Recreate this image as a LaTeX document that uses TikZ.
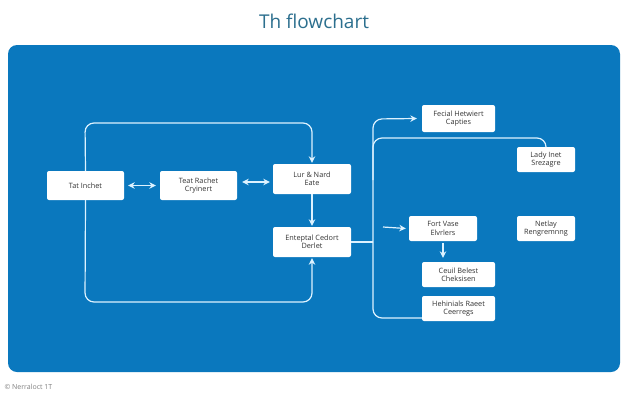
\documentclass[tikz,border=0pt]{standalone}
\usepackage{fontspec}
\setmainfont{Open Sans}
\usetikzlibrary{arrows.meta}
\definecolor{panel}{HTML}{0A78BE}
\definecolor{titlec}{HTML}{2C6F8E}
\definecolor{linec}{HTML}{DDF2FF}
\definecolor{textc}{HTML}{333333}
\tikzset{
  box/.style={draw=none, fill=white, rounded corners=2pt, inner sep=0pt,
    font=\fontsize{7.3}{8.3}\selectfont, text=textc, align=center},
  conn/.style={draw=linec, line width=1.2pt, rounded corners=9pt},
  tip/.style={-{Stealth[length=6.5pt,width=6.5pt]}},
  dtip/.style={{Stealth[length=6.5pt,width=6.5pt]}-{Stealth[length=6.5pt,width=6.5pt]}}
}
\begin{document}
\begin{tikzpicture}[x=1pt,y=-1pt]
\useasboundingbox (0,0) rectangle (625,400);
\fill[white] (0,0) rectangle (625,400);
\fill[panel, rounded corners=9pt] (8,45) rectangle (620,372);
\node[text=titlec, font=\fontsize{19}{22}\selectfont] (title) at (314,21) {Th flowchart};
\node[text=gray, anchor=west, font=\fontsize{7}{8}\selectfont] (foot) at (1,387) {© Nerraloct 1T};

\node[box, minimum width=77pt, minimum height=29pt] (A) at (85.5,185.5) {Tat Inchet};
\node[box, minimum width=77pt, minimum height=29pt] (B) at (198.5,185.5) {Teat Rachet\\Cryinert};
\node[box, minimum width=78pt, minimum height=30pt] (C) at (312,179) {Lur \& Nard\\Eate};
\node[box, minimum width=78pt, minimum height=30pt] (D) at (312,242) {Enteptal Cedort\\Derlet};
\node[box, minimum width=73pt, minimum height=27pt] (E) at (458.5,118.5) {Fecial Hetwiert\\Capties};
\node[box, minimum width=58pt, minimum height=25pt] (F) at (546,159.5) {Lady Inet\\Srezagre};
\node[box, minimum width=68pt, minimum height=25pt] (G) at (443,228.5) {Fort Vase\\Elvrlers};
\node[box, minimum width=58pt, minimum height=25pt] (H) at (546,228.5) {Netlay\\Rengremnng};
\node[box, minimum width=73pt, minimum height=25pt] (I) at (458.5,274.5) {Ceuil Belest\\Cheksisen};
\node[box, minimum width=73pt, minimum height=25pt] (J) at (458.5,308.5) {Hehinials Raeet\\Ceerregs};

\coordinate (jn) at (373,242);
\coordinate (gs) at (383,227);

% left side
\draw[conn, dtip] ([xshift=4pt]A.east) -- ([xshift=-4pt]B.west);
\draw[conn, dtip] ([xshift=5pt,yshift=3.5pt]B.east) -- ([xshift=-3pt,yshift=-3pt]C.west);
\draw[conn, tip] (A.north) -- (85,123) -- (312,123) -- ([yshift=1pt]C.north);
\draw[conn, tip] (A.south) -- (85,302) -- (312,302) -- ([yshift=-1pt]D.south);
\draw[conn, tip] (C.south) -- ([yshift=1pt]D.north);

% right side
\draw[conn] (D.east) -- (jn);
\draw[conn, tip] (jn) -- (373,119) -- ([xshift=-5pt]E.west);
\draw[conn] (373,180) -- (373,138) -- (546,138) -- (F.north);
\draw[conn] (jn) -- (373,318) -- (J.west |- 0,318);
\draw[conn, tip] (gs) -- ([xshift=-3pt]G.west);
\draw[conn, tip] ([yshift=-2pt]G.south) -- ([yshift=4pt]G.south |- I.north);
\end{tikzpicture}
\end{document}
